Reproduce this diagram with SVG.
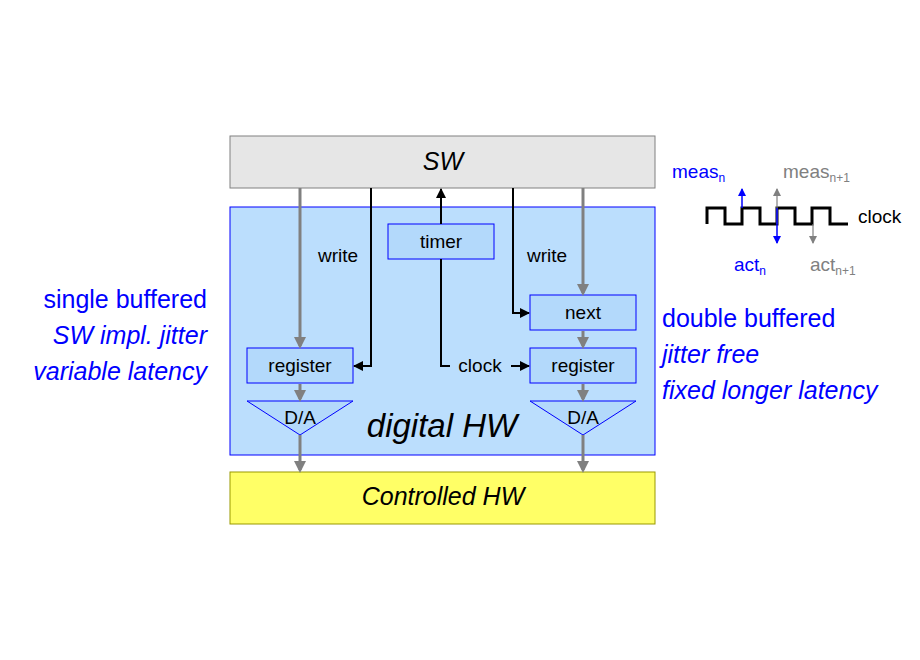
<svg xmlns="http://www.w3.org/2000/svg" width="920" height="660" viewBox="0 0 920 660">
<style>
text{font-family:"Liberation Sans",Arial,sans-serif}
.box{fill:#b3d9fb;stroke:#0000ff;stroke-width:1}
.g{stroke:#808080;stroke-width:3;fill:none}
.k{stroke:#000;stroke-width:2;fill:none}
.t{font-size:19px;text-anchor:middle}
.blue{fill:#0000ff;font-size:25px}
</style>
<defs>
<marker id="ag" markerWidth="4" markerHeight="4" refX="3" refY="2" orient="auto"><path d="M0,0L4,2L0,4Z" fill="#808080"/></marker>
<marker id="ak" markerWidth="6" markerHeight="6" refX="5" refY="3" orient="auto" markerUnits="userSpaceOnUse"><path d="M0,0L6,3L0,6Z" fill="#000"/></marker>
<marker id="ak2" markerWidth="10" markerHeight="10" refX="9" refY="5" orient="auto" markerUnits="userSpaceOnUse"><path d="M0,0L10,5L0,10Z" fill="#000"/></marker>
<marker id="ab" markerWidth="8" markerHeight="8" refX="7" refY="4" orient="auto" markerUnits="userSpaceOnUse"><path d="M0,0L8,4L0,8Z" fill="#0000ff"/></marker>
<marker id="ag2" markerWidth="8" markerHeight="8" refX="7" refY="4" orient="auto" markerUnits="userSpaceOnUse"><path d="M0,0L8,4L0,8Z" fill="#808080"/></marker>
</defs>
<g id="sw"><rect x="230" y="136" width="425" height="52" fill="#e6e6e6" stroke="#808080"/><text x="443" y="170" font-size="25" font-style="italic" text-anchor="middle">SW</text></g>
<g id="digital"><rect x="230" y="207" width="425" height="248" fill="#bbdefd" stroke="#0000ff"/><text x="442" y="437" font-size="33" font-style="italic" text-anchor="middle">digital HW</text></g>
<g id="controlled"><rect x="230" y="472" width="425" height="52" fill="#ffff66" stroke="#999900"/><text x="443" y="505" font-size="25" font-style="italic" text-anchor="middle">Controlled HW</text></g>
<g id="timer"><rect class="box" x="388" y="224" width="106" height="35"/><text class="t" x="441" y="248">timer</text></g>
<g id="next"><rect class="box" x="530" y="295" width="106" height="35"/><text class="t" x="583" y="319">next</text></g>
<g id="regL"><rect class="box" x="247" y="348" width="106" height="35"/><text class="t" x="300" y="372">register</text></g>
<g id="regR"><rect class="box" x="530" y="348" width="106" height="35"/><text class="t" x="583" y="372">register</text></g>
<g id="daL"><path class="box" d="M247,401H353L300,435Z"/><text class="t" x="300" y="424">D/A</text></g>
<g id="daR"><path class="box" d="M530,401H636L583,435Z"/><text class="t" x="583" y="424">D/A</text></g>
<g id="connectors">
<path class="g" marker-end="url(#ag)" d="M300,188V346"/>
<path class="g" marker-end="url(#ag)" d="M300,384V399"/>
<path class="g" marker-end="url(#ag)" d="M300,435V470"/>
<path class="g" marker-end="url(#ag)" d="M583,188V293"/>
<path class="g" marker-end="url(#ag)" d="M583,331V346"/>
<path class="g" marker-end="url(#ag)" d="M583,384V399"/>
<path class="g" marker-end="url(#ag)" d="M583,435V470"/>
<path class="k" marker-end="url(#ak2)" d="M371,188V366H354"/>
<path class="k" marker-end="url(#ak2)" d="M513,188V313H529"/>
<path class="k" marker-end="url(#ak2)" d="M441,224V189"/>
<path class="k" d="M441,259V366H450"/>
<path class="k" marker-end="url(#ak2)" d="M511,366H529"/>
<text class="t" x="338" y="262">write</text>
<text class="t" x="547" y="262">write</text>
<text class="t" x="480" y="372">clock</text>
</g>
<g id="labels">
<text class="blue" x="207" y="308" text-anchor="end">single buffered</text>
<text class="blue" x="207" y="344" text-anchor="end" font-style="italic">SW impl. jitter</text>
<text class="blue" x="207" y="380" text-anchor="end" font-style="italic">variable latency</text>
<text class="blue" x="662" y="327">double buffered</text>
<text class="blue" x="662" y="363" font-style="italic">jitter free</text>
<text class="blue" x="662" y="399" font-style="italic">fixed longer latency</text>
</g>
<g id="clock">
<path d="M707,224V208H725V224H742V208H760V224H777V208H795V224H812V208H830V224H848" fill="none" stroke="#000" stroke-width="3"/>
<text x="858" y="223" font-size="19">clock</text>
<path d="M742,208V189" stroke="#0000ff" stroke-width="1.5" marker-end="url(#ab)"/>
<path d="M777,224V189" stroke="#808080" stroke-width="1.2" marker-end="url(#ag2)"/>
<path d="M777,208V243" stroke="#0000ff" stroke-width="1.5" marker-end="url(#ab)"/>
<path d="M813,224V243" stroke="#808080" stroke-width="1.2" marker-end="url(#ag2)"/>
<text x="672" y="178" font-size="19" fill="#0000ff">meas<tspan font-size="12" dy="4">n</tspan></text>
<text x="783" y="178" font-size="19" fill="#808080">meas<tspan font-size="12" dy="4">n+1</tspan></text>
<text x="734" y="271" font-size="19" fill="#0000ff">act<tspan font-size="12" dy="4">n</tspan></text>
<text x="810" y="271" font-size="19" fill="#808080">act<tspan font-size="12" dy="4">n+1</tspan></text>
</g>
</svg>
